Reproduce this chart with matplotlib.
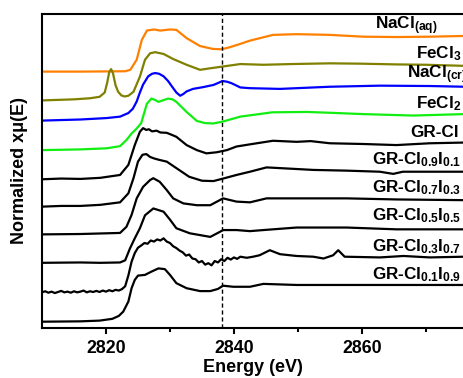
import matplotlib
matplotlib.use('Agg')
import matplotlib.pyplot as plt

plt.rcParams['font.family'] = 'Liberation Sans'
plt.rcParams['font.weight'] = 'bold'
plt.rcParams['mathtext.fontset'] = 'custom'
plt.rcParams['mathtext.rm'] = 'Liberation Sans:bold'
plt.rcParams['mathtext.it'] = 'Liberation Sans:bold'
plt.rcParams['mathtext.bf'] = 'Liberation Sans:bold'
plt.rcParams['mathtext.default'] = 'rm'

# Cl K-edge XANES, normalized (edge step ~1)
e_aq = [2810, 2816, 2823, 2823.8, 2824.8, 2825.6, 2826.4, 2827.5, 2828.5, 2830, 2831, 2832.6,
        2834.7, 2836.7, 2838.1, 2839.4, 2841, 2842.5, 2846.1, 2849.8, 2855, 2860.2, 2865.4, 2870.6, 2876]
mu_aq = [0, 0, 0.01, 0.05, 0.33, 0.88, 1.14, 1.17, 1.14, 1.17, 1.16, 0.93,
         0.71, 0.63, 0.62, 0.68, 0.77, 0.86, 1.02, 1.04, 1.02, 0.97, 0.96, 0.97, 0.99]

e_fe3 = [2810, 2815, 2817.5, 2819, 2819.8, 2820.2, 2820.5, 2820.8, 2821.1, 2821.5, 2821.9, 2822.4,
         2822.9, 2823.5, 2824.3, 2825.3, 2826.1, 2826.9, 2827.7, 2829, 2830.5, 2832.6, 2834.7,
         2836.2, 2838.2, 2841, 2844.6, 2849, 2855, 2860, 2865.4, 2870, 2876]
mu_fe3 = [0, 0.03, 0.06, 0.1, 0.22, 0.5, 0.78, 0.87, 0.75, 0.42, 0.24, 0.14,
          0.11, 0.13, 0.24, 0.66, 1.13, 1.31, 1.34, 1.29, 1.15, 0.99, 0.85,
          0.89, 0.94, 1.01, 0.99, 1.01, 1.03, 1.02, 1.0, 0.99, 0.96]

e_cr = [2810, 2816, 2820.1, 2822.2, 2823.5, 2824.2, 2824.8, 2825.3, 2825.8, 2826.6, 2827.2, 2827.7,
        2828.3, 2829, 2829.7, 2830.3, 2831, 2831.6, 2832.1, 2832.6, 2833.6, 2835.2, 2836.8, 2837.6,
        2838.2, 2838.9, 2839.6, 2841, 2842.5, 2847.2, 2855, 2862.8, 2870.6, 2876]
mu_cr = [0, 0.03, 0.07, 0.11, 0.21, 0.33, 0.53, 0.78, 1.0, 1.23, 1.3, 1.32,
         1.3, 1.23, 1.1, 0.95, 0.78, 0.69, 0.74, 0.81, 0.88, 0.93, 0.99, 1.05,
         1.10, 1.08, 1.04, 0.92, 0.90, 0.88, 0.94, 0.97, 0.96, 0.94]

e_fe2 = [2810, 2816, 2820.1, 2822.2, 2823.2, 2824, 2824.8, 2825.5, 2826, 2826.4, 2827.1, 2827.6,
         2828.2, 2829, 2829.7, 2830.4, 2831, 2831.8, 2832.6, 2834.2, 2835.5, 2836.8, 2838.2,
         2841, 2846, 2851.4, 2856, 2860.2, 2868, 2876]
mu_fe2 = [0, 0.02, 0.05, 0.11, 0.28, 0.46, 0.6, 0.75, 1.05, 1.29, 1.43, 1.40,
          1.34, 1.39, 1.43, 1.41, 1.34, 1.2, 1.06, 0.81, 0.75, 0.74, 0.79,
          0.93, 1.05, 1.06, 1.03, 1.0, 0.96, 1.0]

e_gr = [2810, 2813, 2816, 2819.1, 2822.2, 2823.5, 2824.5, 2825.3, 2825.8, 2826.3, 2826.7, 2827.2,
        2827.9, 2828.5, 2829.5, 2830.2, 2831, 2832.6, 2834.2, 2835.7, 2837.3, 2838.9, 2840.4,
        2842.5, 2846.1, 2849.8, 2852, 2855, 2860.2, 2865.4, 2870.6, 2876]
mu_gr = [0, 0.02, 0.01, 0.04, 0.12, 0.40, 0.95, 1.32, 1.42, 1.37, 1.39, 1.33,
         1.35, 1.30, 1.29, 1.24, 1.18, 0.95, 0.81, 0.72, 0.75, 0.81, 0.91,
         0.97, 1.07, 1.04, 1.06, 1.0, 0.98, 0.95, 1.0, 1.02]

e_09 = [2810, 2813, 2816, 2819.1, 2822.2, 2823.5, 2824.3, 2825, 2825.7, 2826.3, 2826.9, 2827.5,
        2828.3, 2829.5, 2831, 2833, 2835, 2836.8, 2838.1, 2840.4, 2842.5, 2845.1, 2847.2,
        2852.4, 2857.6, 2862.8, 2864.9, 2866.4, 2870.6, 2876]
mu_09 = [0, 0.02, 0.02, 0.05, 0.12, 0.37, 0.79, 1.25, 1.44, 1.46, 1.38, 1.34,
         1.30, 1.25, 1.07, 0.83, 0.72, 0.71, 0.77, 0.88, 0.97, 1.09, 1.07,
         1.02, 1.0, 0.97, 0.91, 0.97, 0.97, 0.97]

e_07 = [2810, 2816, 2822.2, 2823.2, 2824.0, 2824.8, 2825.8, 2826.9, 2827.4, 2828.4, 2829.5, 2830.5,
        2832.1, 2834.2, 2836.3, 2838.3, 2840.4, 2842.5, 2845.1, 2850, 2857.6, 2865.4, 2876]
mu_07 = [0, 0.01, 0.04, 0.21, 0.54, 1.0, 1.32, 1.51, 1.56, 1.46, 1.23, 1.0,
         0.86, 0.81, 0.81, 1.0, 0.91, 0.89, 1.0, 1.0, 1.0, 0.97, 0.95]

e_05 = [2810, 2816, 2819.1, 2822.2, 2823.0, 2823.75, 2824.5, 2825.3, 2826.1, 2827.4, 2829, 2830,
        2831, 2833.1, 2834.7, 2836.3, 2837.8, 2838.3, 2840.4, 2842.5, 2844.6, 2849.8, 2857.6,
        2865.4, 2876]
mu_05 = [0, 0.01, 0, 0.01, 0.07, 0.4, 0.68, 0.96, 1.32, 1.51, 1.42, 1.2,
         0.96, 0.82, 0.77, 0.72, 0.86, 0.91, 0.91, 0.88, 0.91, 0.98, 0.98,
         0.93, 0.93]

e_03 = [2810, 2810.5, 2811, 2811.5, 2812, 2812.5, 2813, 2813.5, 2814, 2814.5, 2815, 2815.5,
        2816, 2816.5, 2817, 2817.5, 2818, 2818.5, 2819, 2819.5, 2820, 2820.5, 2821, 2821.5,
        2822, 2822.5, 2823, 2823.5, 2824, 2824.5, 2825, 2825.5, 2826, 2826.5, 2827, 2827.5,
        2828, 2828.5, 2829, 2829.5, 2830, 2830.5, 2831, 2831.5, 2832, 2832.5, 2833, 2833.5,
        2834, 2834.5, 2835, 2835.5, 2836, 2836.5, 2837, 2837.5, 2838, 2838.5, 2839, 2839.5,
        2840, 2840.5, 2841, 2842, 2843, 2844, 2845.6, 2847.2, 2849.8, 2852.4, 2854, 2855.5,
        2856.3, 2857.3, 2862.8, 2866.5, 2870.6, 2876]
mu_03 = [0.03, 0.06, 0.02, 0.05, 0.01, 0.04, 0.07, 0.03, 0.05, 0.02, 0.06, 0.03,
         0.05, 0.08, 0.03, 0.06, 0.04, 0.07, 0.04, 0.08, 0.05, 0.09, 0.06, 0.10,
         0.08, 0.12, 0.20, 0.50, 0.88, 1.12, 1.27, 1.33, 1.40, 1.38, 1.47, 1.44,
         1.50, 1.47, 1.53, 1.44, 1.40, 1.31, 1.26, 1.19, 1.14, 1.05, 1.08, 0.97,
         0.95, 0.86, 0.90, 0.80, 0.84, 0.78, 0.90, 0.86, 0.95, 0.90, 0.99, 0.94,
         1.00, 0.96, 1.02, 0.99, 1.02, 1.06, 1.20, 1.09, 1.04, 1.02, 0.97, 1.06,
         1.20, 1.02, 1.00, 1.04, 1.00, 1.02]

e_01 = [2810, 2816, 2819, 2821, 2822, 2822.7, 2823.5, 2824, 2824.5, 2825, 2826.1, 2827.1,
        2828.2, 2829.2, 2830, 2831, 2832.6, 2834.7, 2836.3, 2837.5, 2838.3, 2839.9, 2842.5,
        2844.6, 2849.8, 2855, 2862, 2870, 2876]
mu_01 = [0, 0.01, 0.03, 0.08, 0.16, 0.28, 0.56, 0.93, 1.16, 1.28, 1.30, 1.39,
         1.48, 1.46, 1.30, 1.07, 0.93, 0.85, 0.85, 0.91, 1.0, 0.97, 0.97,
         1.05, 1.02, 1.02, 1.02, 1.02, 1.02]

names = ['NaCl$_{(aq)}$', 'FeCl$_3$', 'NaCl$_{(cr)}$', 'FeCl$_2$', 'GR-Cl',
         'GR-Cl$_{0.9}$I$_{0.1}$', 'GR-Cl$_{0.7}$I$_{0.3}$', 'GR-Cl$_{0.5}$I$_{0.5}$',
         'GR-Cl$_{0.3}$I$_{0.7}$', 'GR-Cl$_{0.1}$I$_{0.9}$']
energies = [e_aq, e_fe3, e_cr, e_fe2, e_gr, e_09, e_07, e_05, e_03, e_01]
spectra = [mu_aq, mu_fe3, mu_cr, mu_fe2, mu_gr, mu_09, mu_07, mu_05, mu_03, mu_01]

colors = ['#ff8000', '#808000', '#0000ff', '#11ee11'] + ['black'] * 6
offsets = [7.12, 6.32, 5.76, 4.94, 4.13, 3.37, 2.60, 1.81, 0.96, 0.175]
label_x = [2862.1, 2868.4, 2867.0, 2868.4, 2867.5, 2861.6, 2861.6, 2861.6, 2861.6, 2861.6]

fig = plt.figure(figsize=(4.63, 3.78), dpi=100)
ax = fig.add_axes([42 / 463, 50 / 378, 421 / 463, 314 / 378])

for e, mu, c, off, name, lx in zip(energies, spectra, colors, offsets, names, label_x):
    ax.plot(e, [m + off for m in mu], color=c, lw=1.6)
    ax.text(lx, off + 1.17, name, fontsize=12.3, fontweight='bold', ha='left', va='baseline')

ax.axvline(2838.2, color='black', lw=1.0, ls=(0, (3, 2)))

ax.set_xlim(2810, 2875.8)
ax.set_ylim(0, 8.72)
ax.set_xticks([2820, 2840, 2860])
ax.set_xticks([2830, 2850, 2870], minor=True)
ax.set_yticks([])
ax.tick_params(axis='x', which='major', direction='out', length=4, width=1.5, pad=4.5, labelsize=12.8)
ax.tick_params(axis='x', which='minor', direction='out', length=3, width=1.5)
for lab in ax.get_xticklabels():
    lab.set_fontweight('bold')
for s in ['left', 'bottom', 'top']:
    ax.spines[s].set_linewidth(1.5)
ax.spines['right'].set_visible(False)

ax.set_xlabel('Energy (eV)', fontsize=13, fontweight='bold')
ax.set_ylabel('Normalized xμ(E)', fontsize=13, fontweight='bold')
ax.xaxis.set_label_coords(0.5, -0.1)
ax.yaxis.set_label_coords(-0.033, 0.5)

fig.savefig('out.png', dpi=100)
